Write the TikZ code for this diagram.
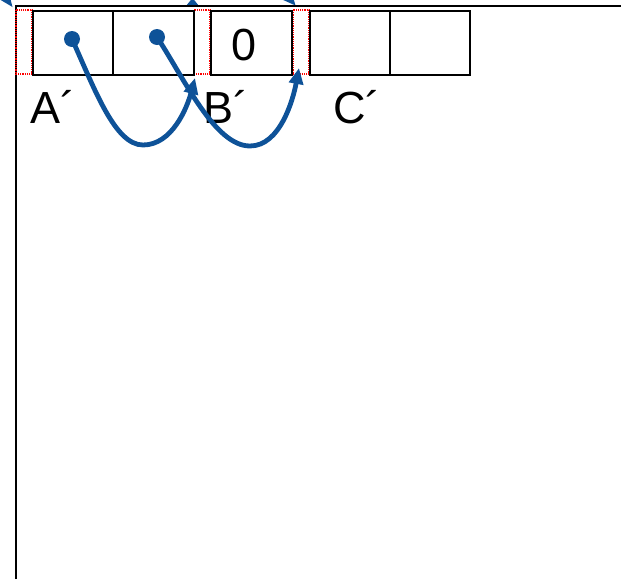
\documentclass[tikz,border=0pt]{standalone}
\usepackage{fontspec}
\setmainfont{Liberation Sans}
\usetikzlibrary{arrows.meta}
\definecolor{linkblue}{RGB}{14,82,152}
\tikzset{
  cell/.style={draw=black, line width=2.2pt},
  gap/.style={draw=red, densely dotted, line width=1.2pt},
  frame/.style={draw=black, line width=2.4pt},
  link/.style={draw=linkblue, line width=4.8pt, -{Triangle[length=16pt,width=14pt]}},
  dot/.style={circle, fill=linkblue, inner sep=0pt, minimum size=16pt},
  big/.style={inner sep=0pt, font=\fontsize{45}{50}\selectfont},
  tip/.style={fill=linkblue}
}
\begin{document}
\begin{tikzpicture}[x=1pt, y=-1pt]
  \useasboundingbox (0,0) rectangle (621,579);
  \clip (0,0) rectangle (621,579);

  % arrow tips reaching down from above
  \fill[tip] (-1,-1) -- (10,-3) -- (12.5,7) -- cycle;
  \fill[tip] (192.5,-2) -- (186,6) -- (199,6) -- cycle;
  \fill[tip] (281,-1) -- (293,-3) -- (295.5,5.5) -- cycle;

  % outer frame
  \draw[frame] (16,579) -- (16,6) -- (621,6);

  % padding slots
  \draw[gap] (16,10) rectangle (32,74);
  \draw[gap] (194,10) rectangle (210,74);
  \draw[gap] (293,10) rectangle (309,74);

  % record A'
  \node[cell, minimum width=80pt, minimum height=64pt, inner sep=0pt, anchor=north west] (a1) at (32,10) {};
  \node[cell, minimum width=81pt, minimum height=64pt, inner sep=0pt, anchor=north west] (a2) at (112,10) {};
  % record B'
  \node[cell, minimum width=81pt, minimum height=64pt, inner sep=0pt, anchor=north west] (b1) at (210,10) {};
  \node[big, anchor=base] (zero) at (244,60) {0};
  % record C'
  \node[cell, minimum width=80pt, minimum height=64pt, inner sep=0pt, anchor=north west] (c1) at (309,10) {};
  \node[cell, minimum width=80pt, minimum height=64pt, inner sep=0pt, anchor=north west] (c2) at (389,10) {};

  % labels
  \node[big, anchor=base west] (la) at (30,123.5) {A´};
  \node[big, anchor=base west] (lb) at (203.5,123.5) {B´};
  \node[big, anchor=base west] (lc) at (333,123.5) {C´};

  % pointers
  \node[dot] (p1) at (72,39) {};
  \node[dot] (p2) at (157,37) {};
  \coordinate (t1) at (195,78);
  \coordinate (t2) at (299,68);
  \coordinate (m1) at (143,145);
  \coordinate (m2) at (250,146);

  \draw[link] (p1.center) .. controls (95,90) and (115,145) .. (m1)
              .. controls (172,145) and (187,108) .. (t1);
  \draw[link] (p2.center) .. controls (185,80) and (215,146) .. (m2)
              .. controls (280,146) and (293,100) .. (t2);
\end{tikzpicture}
\end{document}
